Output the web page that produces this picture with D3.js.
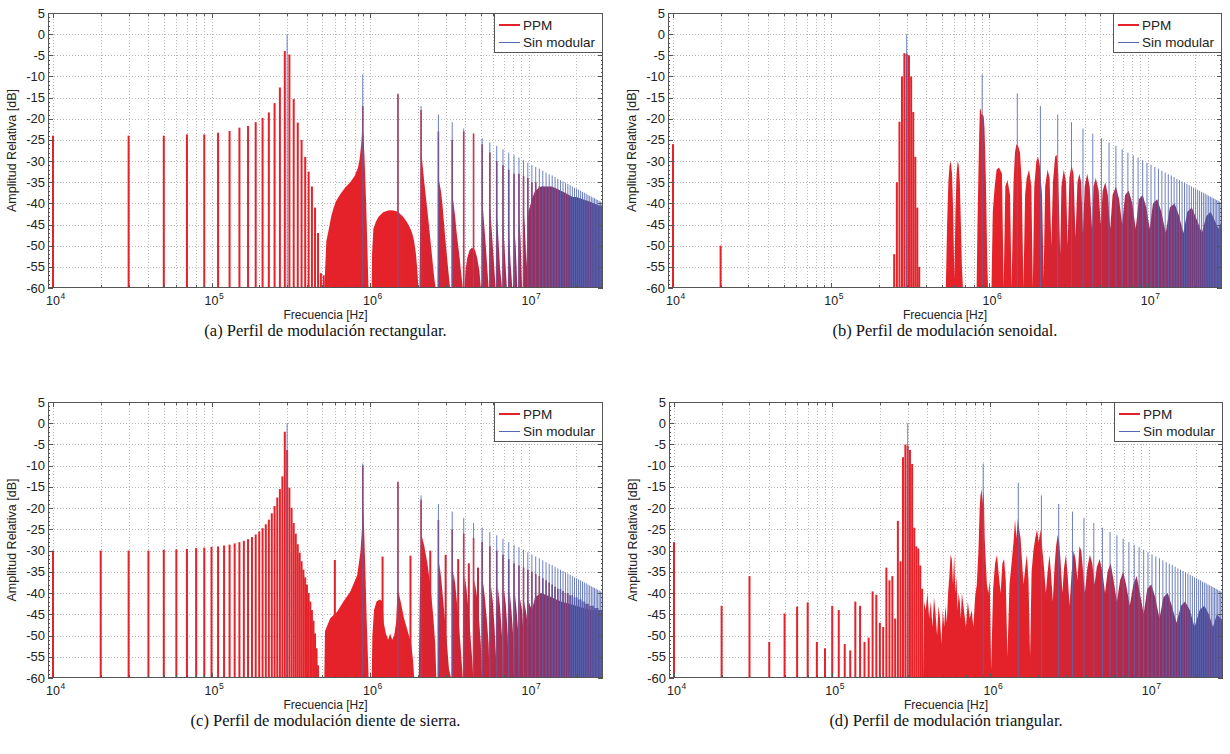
<!DOCTYPE html>
<html>
<head>
<meta charset="utf-8">
<script src="https://cdn.jsdelivr.net/npm/d3@7"></script>
<style>
body { margin: 0; background: #fff; }
svg text { font-family: "Liberation Sans", Arial, sans-serif; fill: #222; }
svg text.cap { font-family: "Liberation Serif", "DejaVu Serif", serif; fill: #111; }
</style>
</head>
<body>
<svg id="chart" width="1230" height="754"></svg>
<script>
// ---- data ----
const yTicks = [5, 0, -5, -10, -15, -20, -25, -30, -35, -40, -45, -50, -55, -60];
const xDecades = [1e4, 1e5, 1e6, 1e7];
const xExp = ['4', '5', '6', '7'];
const legendNames = ['PPM', 'Sin modular'];
const captions = ['(a) Perfil de modulación rectangular.', '(b) Perfil de modulación senoidal.',
                  '(c) Perfil de modulación diente de sierra.', '(d) Perfil de modulación triangular.'];

// unmodulated carrier harmonics, kHz and dB
const blueKHz = [300, 900, 1500, 2100, 2700, 3300, 3900, 4500, 5100, 5700, 6300, 6900, 7500, 8100, 8700, 9300, 9900,
  10500, 11100, 11700, 12300, 12900, 13500, 14100, 14700, 15300, 15900, 16500, 17100, 17700, 18300, 18900, 19500,
  20100, 20700, 21300, 21900, 22500, 23100, 23700, 24300, 24900, 25500, 26100, 26700, 27300, 27900, 28500, 29100];
const blueDb = [0, -9.5, -14, -17, -19, -20.8, -22.3, -23.5, -24.6, -25.6, -26.4, -27.2, -28, -28.6, -29.2, -29.8, -30.4,
  -30.9, -31.4, -31.8, -32.3, -32.7, -33.1, -33.4, -33.8, -34.2, -34.5, -34.8, -35.1, -35.4, -35.7, -36, -36.3,
  -36.5, -36.8, -37, -37.3, -37.5, -37.7, -38, -38.2, -38.4, -38.6, -38.8, -39, -39.2, -39.4, -39.6, -39.7];

// (a) rectangular
const stemsA = [[10,-24],[30,-24],[50,-24],[70,-23.7],[90,-23.7],[110,-23.3],[130,-22.9],[150,-22.1],[170,-21.7],
  [190,-20.8],[210,-19.8],[230,-18.5],[250,-16.3],[270,-12.6],[290,-4],[310,-4.8],[330,-15.3],[350,-20.9],[370,-25],
  [390,-29],[410,-32.5],[430,-36],[450,-41],[470,-47],[490,-56.5],[510,-57]];
const peaksA = [null, -17, -14.2, -18, -23, -25, -23, -23.5, -26, -28, -30, -31, -32, -33, -33, -33.5, -34, -35, -35,
  -36, -36, -36.5, -37, -37, -37.5, -38, -38, -38.5, -38.5, -39, -39, -39.5, -39.5, -40, -40, -40, -40.5, -40.5, -41,
  -41, -41, -41.5, -41.5, -41.5, -42, -42, -42, -42, -42];
const fillA = [[515,-60],[530,-49],[550,-46],[570,-43],[590,-41],[610,-39.5],[650,-37.8],[700,-36.2],[750,-35],
  [800,-33.5],[840,-31.5],[860,-29.5],[880,-26],[895,-22],[910,-24],[925,-30],[945,-40],[965,-52],[978,-60],
  [1025,-60],[1030,-52],[1050,-46],[1090,-44.3],[1130,-43.2],[1170,-42.6],[1210,-42.1],[1250,-41.9],[1300,-41.7],
  [1350,-41.6],[1400,-41.7],[1450,-41.8],[1500,-42],[1550,-42.5],[1600,-43],[1650,-43.6],[1700,-44.3],[1750,-45.1],
  [1800,-46],[1850,-47.2],[1900,-49],[1950,-52],[1990,-56],[2020,-60],
  [2050,-60],[2070,-45],[2090,-33],[2110,-28],[2160,-32],[2200,-35],[2260,-39],[2320,-43],[2380,-47],[2440,-51],
  [2500,-55],[2560,-58.5],[2600,-60],
  [2680,-60],[2695,-40],[2720,-34.5],[2800,-37],[2860,-40],[2920,-44],[2980,-48],[3050,-52],[3120,-56],[3200,-60],
  [3290,-60],[3305,-45],[3340,-39],[3440,-43],[3520,-47],[3600,-50],[3680,-53],[3760,-56.5],[3850,-60],
  [3950,-60],[4000,-56],[4100,-53],[4250,-51],[4400,-50.5],[4600,-51],[4750,-53],[4900,-56],[5000,-60],
  [5110,-60],[5130,-40],[5250,-45],[5400,-51],[5600,-60],
  [5710,-60],[5730,-41],[5850,-46],[6000,-52],[6200,-60],
  [6310,-60],[6330,-43],[6450,-48],[6600,-55],[6800,-60],
  [6910,-60],[6930,-45],[7100,-52],[7300,-60],
  [7520,-60],[7540,-47],[7700,-54],[7900,-60],
  [8120,-60],[8140,-46],[8300,-50],[8500,-60],
  [8720,-60],[8740,-44],[8900,-48],[9100,-60],
  [9310,-60],[9330,-42],[9500,-46],[9700,-55],[9850,-45],[10000,-42],[10500,-39],[11000,-37],[12000,-36],
  [13000,-36],[14000,-36],[15000,-36.5],[16000,-37],[17000,-37.5],[18000,-38],[19000,-38.5],[20000,-38.5],
  [22000,-39],[24000,-39.5],[26000,-40],[28000,-40.5],[29500,-40.5]];

// (b) sinusoidal
const stemsB = [[10,-26],[20,-50],[250,-52],[260,-35],[270,-20.7],[280,-10],[290,-4.5],[300,-4.6],[310,-5],
  [320,-10],[330,-18.4],[340,-29],[350,-41],[360,-55]];
const peaksB = [];
const fillB = [[530,-60],[540,-45],[550,-35],[560,-31],[570,-30],[580,-33],[590,-42],[600,-58],[610,-42],[620,-33],
  [630,-30],[640,-31],[650,-35],[660,-45],[670,-55],[680,-60],
  [830,-60],[840,-45],[850,-35],[860,-25],[870,-18],[880,-17.5],[890,-19],[900,-19],[910,-19],[920,-19.5],
  [930,-22],[940,-28],[950,-35],[960,-45],[970,-55],[980,-60],
  [1030,-60],[1050,-42],[1080,-36],[1110,-32],[1150,-31.5],[1200,-33],[1230,-60],[1260,-36],[1300,-34.5],
  [1350,-38],[1380,-60],[1420,-35],[1450,-28],[1480,-26],[1520,-26.5],[1560,-28],[1600,-35],[1640,-60],[1680,-38],
  [1720,-34],[1780,-32],[1840,-36],[1880,-60],[1920,-36],[1980,-30],[2030,-29],[2080,-31],[2150,-38],[2200,-58],
  [2250,-36],[2330,-32],[2400,-34],[2460,-50],[2520,-35],[2600,-29],[2660,-28.5],[2720,-33],[2800,-52],[2850,-36],
  [2950,-32],[3050,-35],[3120,-50],[3200,-34],[3300,-31],[3400,-33],[3500,-48],[3600,-35],[3700,-33],[3800,-35],
  [3900,-47],[4000,-36],[4150,-33],[4300,-36],[4450,-46],[4550,-36],[4700,-34],[4900,-37],[5050,-45],[5200,-37],
  [5400,-35],[5600,-38],[5800,-46],[6000,-38],[6300,-36],[6600,-39],[6900,-45],[7200,-38],[7600,-37],[8000,-40],
  [8400,-46],[8800,-39],[9300,-38],[9800,-41],[10300,-46],[10800,-40],[11500,-39],[12200,-42],[13000,-47],
  [13800,-41],[14800,-40],[15800,-43],[16800,-47],[17800,-42],[19000,-41],[20500,-44],[22000,-47],[23500,-43],
  [25000,-42],[26500,-44],[28000,-46],[29500,-44]];

// (c) sawtooth
const stemsC = [[10,-30],[20,-30],[30,-30],[40,-30],[50,-29.8],[60,-29.7],[70,-29.6],[80,-29.4],[90,-29.3],
  [100,-29.1],[110,-29],[120,-28.8],[130,-28.6],[140,-28.3],[150,-28],[160,-27.7],[170,-27.3],[180,-26.8],
  [190,-26.2],[200,-25.5],[210,-24.7],[220,-23.8],[230,-22.7],[240,-21.2],[250,-19.5],[260,-17.5],[270,-15.5],
  [280,-12.5],[290,-2],[300,-6.3],[310,-15.2],[320,-19.9],[330,-23.5],[340,-26],[350,-28.5],[360,-30.5],[370,-32.5],
  [380,-34.5],[390,-36.3],[400,-38],[410,-40],[420,-42],[430,-44],[440,-46.5],[450,-49.5],[460,-53],[470,-57],
  [600,-32.2],[1200,-31.4],[1800,-31.2],[2400,-30],[3000,-31],[3600,-32],[4200,-33],[4800,-34]];
const peaksC = [null, -10, -13.8, -18, -22.8, -25, -26, -27, -28, -29, -30, -31, -32, -33, -33.5, -34, -34.5, -35,
  -35.5, -36, -36.5, -37, -37.5, -38, -38.5, -39, -39, -39.5, -40, -40, -40.5, -40.5, -41, -41, -41.5, -41.5, -42,
  -42, -42.5, -42.5, -43, -43, -43, -43.5, -43.5, -43.5, -44, -44, -44];
const fillC = [[515,-60],[520,-49],[560,-46],[620,-44.4],[680,-42],[750,-39.7],[830,-35.8],[870,-30.3],[890,-24.8],
  [905,-20],[920,-26],[935,-35],[950,-45],[970,-55],[980,-60],
  [1025,-60],[1035,-50],[1060,-44],[1100,-42],[1150,-41.5],[1200,-42],[1220,-47],[1260,-49.5],[1300,-51],
  [1340,-49.5],[1380,-51],[1420,-50],[1460,-47],[1490,-40],[1520,-40],[1580,-43],[1640,-46],[1700,-48],[1760,-50],
  [1820,-52],[1870,-56],[1900,-60],
  [2030,-60],[2060,-40],[2090,-30],[2120,-26.5],[2200,-29],[2300,-33],[2400,-38],[2500,-45],[2580,-52],[2620,-60],
  [2680,-60],[2700,-38],[2740,-33],[2820,-37],[2900,-42],[2980,-47],[3060,-52],[3150,-58],[3250,-60],
  [3300,-60],[3320,-40],[3360,-35],[3450,-38],[3550,-43],[3650,-48],[3750,-54],[3850,-60],
  [3900,-60],[3920,-40],[3960,-36],[4060,-39],[4180,-44],[4300,-50],[4420,-56],[4480,-60],
  [4500,-60],[4520,-42],[4560,-37],[4700,-40],[4850,-45],[5000,-52],[5080,-60],
  [5100,-60],[5120,-43],[5170,-37.5],[5300,-41],[5450,-46],[5600,-52],[5680,-60],
  [5700,-60],[5720,-44],[5780,-38],[5950,-42],[6100,-48],[6250,-56],[6300,-60],
  [6310,-60],[6330,-44],[6400,-38.5],[6600,-43],[6800,-50],[6880,-60],
  [6900,-60],[6920,-45],[7000,-39],[7200,-43],[7400,-50],[7480,-60],
  [7500,-60],[7520,-46],[7600,-39.5],[7800,-44],[8000,-50],[8080,-60],
  [8100,-60],[8120,-46],[8200,-40],[8400,-44],[8600,-49],[8680,-60],
  [8700,-58],[8800,-41],[9100,-44],[9300,-50],[9400,-42],[9700,-45],[9900,-48],[10000,-42],[10500,-44],
  [11000,-41],[12000,-40],[13000,-40.5],[14000,-41],[15000,-41.5],[16000,-42],[18000,-42.5],[20000,-43],
  [22000,-43.5],[25000,-44],[28000,-44],[29500,-44]];

// (d) triangular
const stemsD = [[10,-28],[20,-43],[30,-36],[40,-51.5],[50,-44.8],[60,-43.2],[70,-42.2],[80,-51.5],[90,-53],
  [100,-43],[110,-44],[120,-52],[130,-53.5],[140,-42],[150,-43],[160,-51.5],[170,-50.5],[180,-39.6],[190,-40.4],
  [200,-47],[210,-48],[220,-34],[230,-37],[240,-36],[250,-46],[260,-23],[270,-32.5],[280,-8],[290,-5],[300,-5.3],
  [310,-6.3],[320,-9.6],[330,-24.6],[340,-29],[350,-29.5],[360,-33.5],[370,-39]];
const peaksD = [];
const fillD = [[375,-60],[380,-42],[390,-44],[400,-40],[410,-46],[420,-42],[430,-48],[440,-41],[450,-45],
  [460,-50],[470,-43],[480,-46],[490,-52],[500,-44],[510,-48],[520,-43],[530,-47],[540,-40],[550,-36],[560,-31],
  [570,-32],[580,-38],[590,-31],[600,-40],[610,-36],[620,-44],[630,-40],[640,-42],[650,-46],[660,-40],[680,-44],
  [700,-48],[720,-42],[740,-46],[760,-44],[780,-48],[800,-41],[820,-38],[840,-30],[855,-20],[865,-17],[880,-15.5],
  [890,-19],[900,-16],[910,-18],[920,-27],[935,-33],[950,-38],[970,-40],[990,-37],[1010,-58],[1040,-39],
  [1070,-33],[1100,-31],[1130,-36],[1160,-40],[1190,-33],[1220,-32],[1250,-37],[1280,-55],[1320,-38],[1360,-33],
  [1400,-28],[1430,-22.7],[1460,-27],[1490,-22.5],[1520,-25],[1550,-27],[1580,-32],[1620,-38],[1660,-34],
  [1700,-31],[1740,-37],[1780,-55],[1820,-35],[1870,-30],[1920,-27],[1970,-25],[2020,-28],[2070,-25],[2120,-29],
  [2180,-34],[2240,-40],[2300,-35],[2360,-31],[2420,-36],[2480,-42],[2540,-34],[2600,-29],[2660,-26.3],[2720,-28],
  [2780,-33],[2850,-40],[2920,-34],[3000,-31],[3080,-36],[3160,-43],[3250,-36],[3350,-30],[3450,-32],[3550,-37],
  [3650,-29],[3750,-30],[3850,-35],[3950,-40],[4100,-34],[4250,-31],[4400,-33],[4550,-38],[4700,-34],[4900,-32],
  [5100,-35],[5300,-40],[5500,-35],[5750,-33],[6000,-37],[6300,-42],[6600,-37],[6900,-35],[7200,-38],[7600,-43],
  [8000,-38],[8400,-36],[8800,-40],[9300,-45],[9800,-39],[10400,-38],[11000,-41],[11700,-46],[12400,-41],
  [13200,-40],[14000,-43],[15000,-47],[16000,-43],[17000,-42],[18200,-44],[19500,-48],[21000,-44],[22500,-43],
  [24000,-45],[25500,-48],[27000,-45],[28500,-46],[29500,-47]];

// ---- drawing ----
const svg = d3.select('#chart');
const RED = '#e52229', BLUE = '#5468b4';

const panels = [
  { key: 'a', left: 48, right: 603, top: 13, bottom: 288, stems: stemsA, peaks: peaksA, fill: fillA },
  { key: 'b', left: 668, right: 1222, top: 13, bottom: 288, stems: stemsB, peaks: peaksB, fill: fillB },
  { key: 'c', left: 48, right: 603, top: 402, bottom: 678, stems: stemsC, peaks: peaksC, fill: fillC },
  { key: 'd', left: 669, right: 1223, top: 402, bottom: 678, stems: stemsD, peaks: peaksD, fill: fillD }
];

panels.forEach(function(p, i) {
  const x = d3.scaleLog().domain([9.3e3, 2.95e7]).range([p.left, p.right]);
  const y = d3.scaleLinear().domain([-60, 5]).range([p.bottom, p.top]);
  const fx = function(k) { return x(k * 1000); };

  const g = svg.append('g');
  const defs = svg.append('defs');
  defs.append('clipPath').attr('id', 'clip-' + p.key)
    .append('rect').attr('x', p.left).attr('y', p.top)
    .attr('width', p.right - p.left).attr('height', p.bottom - p.top);

  // red fades towards purple where it sits under the dense blue lines
  const grad = defs.append('linearGradient').attr('id', 'red-' + p.key)
    .attr('gradientUnits', 'userSpaceOnUse')
    .attr('x1', x(1.5e6)).attr('x2', x(2.95e7)).attr('y1', 0).attr('y2', 0);
  [[0, RED], [0.4, '#c8263c'], [0.65, '#9a2e5c'], [1, '#5a428c']].forEach(function(s) {
    grad.append('stop').attr('offset', s[0]).attr('stop-color', s[1]);
  });
  const redPaint = 'url(#red-' + p.key + ')';

  // grid
  const grid = g.append('g').attr('stroke', '#b8b8b8').attr('stroke-dasharray', '1,2').attr('stroke-width', 1);
  grid.selectAll('line.gx').data(x.ticks()).enter().append('line')
    .attr('x1', function(d) { return Math.round(x(d)) + 0.5; })
    .attr('x2', function(d) { return Math.round(x(d)) + 0.5; })
    .attr('y1', p.top).attr('y2', p.bottom);
  grid.selectAll('line.gy').data(yTicks.slice(1, -1)).enter().append('line')
    .attr('y1', function(d) { return Math.round(y(d)) + 0.5; })
    .attr('y2', function(d) { return Math.round(y(d)) + 0.5; })
    .attr('x1', p.left).attr('x2', p.right);

  const plot = g.append('g').attr('clip-path', 'url(#clip-' + p.key + ')');

  // PPM spectrum: dense part as area, resolvable lines as stems
  const area = d3.area()
    .x(function(d) { return fx(d[0]); })
    .y0(y(-60))
    .y1(function(d) { return y(d[1]); });
  plot.append('path').datum(p.fill).attr('d', area).attr('fill', redPaint);

  plot.selectAll('line.stem').data(p.stems).enter().append('line')
    .attr('x1', function(d) { return fx(d[0]); })
    .attr('x2', function(d) { return fx(d[0]); })
    .attr('y1', y(-60)).attr('y2', function(d) { return y(d[1]); })
    .attr('stroke', redPaint).attr('stroke-width', 2);

  const peakData = blueKHz.map(function(k, j) { return [k, p.peaks[j]]; })
    .filter(function(d) { return d[1] != null; });
  plot.selectAll('line.peak').data(peakData).enter().append('line')
    .attr('x1', function(d) { return fx(d[0]); })
    .attr('x2', function(d) { return fx(d[0]); })
    .attr('y1', y(-60)).attr('y2', function(d) { return y(d[1]); })
    .attr('stroke', redPaint).attr('stroke-width', 1.6);

  // unmodulated spectrum
  plot.selectAll('line.blue').data(d3.zip(blueKHz, blueDb)).enter().append('line')
    .attr('x1', function(d) { return fx(d[0]); })
    .attr('x2', function(d) { return fx(d[0]); })
    .attr('y1', y(-60)).attr('y2', function(d) { return y(d[1]); })
    .attr('stroke', BLUE).attr('stroke-width', 1).attr('stroke-opacity', 0.85);

  // axes box and ticks
  const ax = g.append('g').attr('stroke', '#555').attr('fill', 'none');
  ax.append('rect').attr('x', p.left + 0.5).attr('y', p.top + 0.5)
    .attr('width', p.right - p.left - 1).attr('height', p.bottom - p.top - 1);
  yTicks.forEach(function(t) {
    const yy = Math.round(y(t)) + 0.5;
    ax.append('line').attr('x1', p.left).attr('x2', p.left + 5).attr('y1', yy).attr('y2', yy);
    ax.append('line').attr('x1', p.right - 5).attr('x2', p.right).attr('y1', yy).attr('y2', yy);
  });
  d3.range(-60, 6, 1).forEach(function(t) {
    if (t % 5 === 0) return;
    const yy = Math.round(y(t)) + 0.5;
    ax.append('line').attr('x1', p.left).attr('x2', p.left + 2).attr('y1', yy).attr('y2', yy);
    ax.append('line').attr('x1', p.right - 2).attr('x2', p.right).attr('y1', yy).attr('y2', yy);
  });
  x.ticks().forEach(function(t) {
    const xx = Math.round(x(t)) + 0.5;
    const len = xDecades.indexOf(t) >= 0 ? 5 : 3;
    ax.append('line').attr('x1', xx).attr('x2', xx).attr('y1', p.bottom).attr('y2', p.bottom - len);
    ax.append('line').attr('x1', xx).attr('x2', xx).attr('y1', p.top).attr('y2', p.top + len);
  });

  // tick labels
  g.selectAll('text.yt').data(yTicks).enter().append('text')
    .attr('x', p.left - 3).attr('y', function(d) { return y(d) + 4.5; })
    .attr('text-anchor', 'end').attr('font-size', 13).text(function(d) { return d; });
  xDecades.forEach(function(d, j) {
    g.append('text').attr('x', x(d)).attr('y', p.bottom + 17)
      .attr('text-anchor', 'middle').attr('font-size', 12.5).text('10');
    g.append('text').attr('x', x(d) + 7.5).attr('y', p.bottom + 10.5)
      .attr('font-size', 8.5).text(xExp[j]);
  });

  // axis titles
  g.append('text').attr('x', (p.left + p.right) / 2).attr('y', p.bottom + 30.5)
    .attr('text-anchor', 'middle').attr('font-size', 12).text('Frecuencia [Hz]');
  g.append('text').attr('transform', 'translate(' + (p.left - 32) + ',' + ((p.top + p.bottom) / 2) + ') rotate(-90)')
    .attr('text-anchor', 'middle').attr('font-size', 12.5).text('Amplitud Relativa [dB]');

  // legend
  const lg = g.append('g').attr('transform', 'translate(' + (p.right - 109) + ',' + p.top + ')');
  lg.append('rect').attr('x', 0.5).attr('y', 0.5).attr('width', 108).attr('height', 39)
    .attr('fill', '#fff').attr('stroke', '#555');
  lg.append('line').attr('x1', 5).attr('x2', 26).attr('y1', 12).attr('y2', 12)
    .attr('stroke', RED).attr('stroke-width', 2);
  lg.append('line').attr('x1', 5).attr('x2', 26).attr('y1', 29.5).attr('y2', 29.5)
    .attr('stroke', BLUE).attr('stroke-width', 1);
  lg.selectAll('text').data(legendNames).enter().append('text')
    .attr('x', 29).attr('y', function(d, j) { return 16.5 + j * 17.5; })
    .attr('font-size', 13.5).text(function(d) { return d; });

  // caption
  svg.append('text').attr('class', 'cap').attr('x', (p.left + p.right) / 2).attr('y', p.bottom + 47.5)
    .attr('text-anchor', 'middle').attr('font-size', 16.5).text(captions[i]);
});
</script>
</body>
</html>
